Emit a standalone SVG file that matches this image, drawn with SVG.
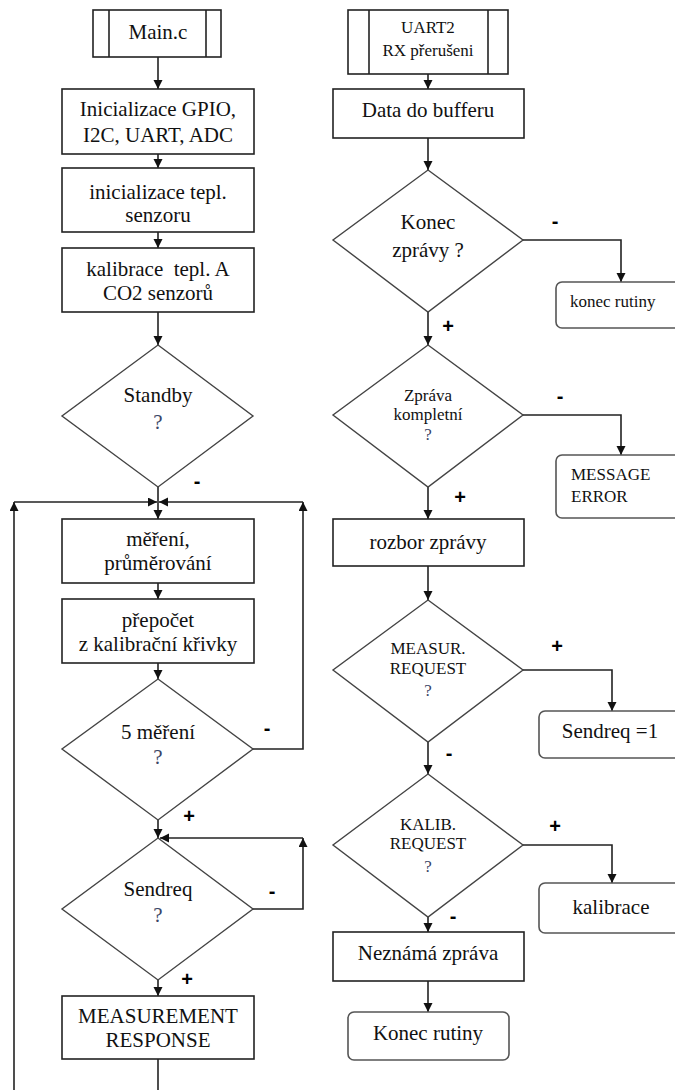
<svg xmlns="http://www.w3.org/2000/svg" width="675" height="1090" viewBox="0 0 675 1090">
<style>
.box{fill:#fff;stroke:#222;stroke-width:1.6}
.rbox{fill:#fff;stroke:#555;stroke-width:1.6}
.dia{fill:#fff;stroke:#444;stroke-width:1.4}
.t{font-family:"Liberation Serif","Times New Roman",serif;font-size:21px;fill:#111;text-anchor:middle}
.s{font-size:17px}
.m{font-size:17px}
.st{text-anchor:start}
.q{fill:#3a4566}
.l{font-family:"Liberation Sans",Arial,sans-serif;font-weight:bold;font-size:20px;fill:#000;text-anchor:middle}
.c{fill:none;stroke:#222;stroke-width:1.6}
</style>
<defs>
<marker id="ah" markerUnits="userSpaceOnUse" markerWidth="10" markerHeight="10" refX="9" refY="4.5" orient="auto">
<path d="M0,0 L9,4.5 L0,9 z" fill="#111"/>
</marker>
</defs>
<g id="connectors">
<line class="c" x1="158" y1="57" x2="158" y2="89" marker-end="url(#ah)"/>
<line class="c" x1="158" y1="154" x2="158" y2="168" marker-end="url(#ah)"/>
<line class="c" x1="158" y1="232" x2="158" y2="248" marker-end="url(#ah)"/>
<line class="c" x1="158" y1="312" x2="158" y2="345" marker-end="url(#ah)"/>
<line class="c" x1="158" y1="487" x2="158" y2="519" marker-end="url(#ah)"/>
<line class="c" x1="14" y1="1090" x2="14" y2="502" marker-end="url(#ah)"/>
<line class="c" x1="14" y1="502" x2="157" y2="502" marker-end="url(#ah)"/>
<polyline class="c" points="253,749 303,749 303,502" marker-end="url(#ah)"/>
<line class="c" x1="303" y1="502" x2="159" y2="502" marker-end="url(#ah)"/>
<line class="c" x1="158" y1="583" x2="158" y2="599" marker-end="url(#ah)"/>
<line class="c" x1="158" y1="663" x2="158" y2="679" marker-end="url(#ah)"/>
<line class="c" x1="158" y1="820" x2="158" y2="838" marker-end="url(#ah)"/>
<polyline class="c" points="253,909 303,909 303,838" marker-end="url(#ah)"/>
<line class="c" x1="303" y1="838" x2="160" y2="838" marker-end="url(#ah)"/>
<line class="c" x1="158" y1="980" x2="158" y2="996" marker-end="url(#ah)"/>
<line class="c" x1="158" y1="1059" x2="158" y2="1090"/>
<line class="c" x1="428" y1="74" x2="428" y2="89" marker-end="url(#ah)"/>
<line class="c" x1="428" y1="138" x2="428" y2="170" marker-end="url(#ah)"/>
<polyline class="c" points="523,240 621,240 621,282" marker-end="url(#ah)"/>
<line class="c" x1="428" y1="312" x2="428" y2="345" marker-end="url(#ah)"/>
<polyline class="c" points="523,415 621,415 621,455" marker-end="url(#ah)"/>
<line class="c" x1="428" y1="487" x2="428" y2="519" marker-end="url(#ah)"/>
<line class="c" x1="428" y1="566" x2="428" y2="600" marker-end="url(#ah)"/>
<polyline class="c" points="523,670 612,670 612,711" marker-end="url(#ah)"/>
<line class="c" x1="428" y1="742" x2="428" y2="774" marker-end="url(#ah)"/>
<polyline class="c" points="523,845 612,845 612,883" marker-end="url(#ah)"/>
<line class="c" x1="428" y1="917" x2="428" y2="932" marker-end="url(#ah)"/>
<line class="c" x1="428" y1="981" x2="428" y2="1012" marker-end="url(#ah)"/>
</g>
<g id="labels">
<text class="l" x="197" y="488">-</text>
<text class="l" x="267" y="735">-</text>
<text class="l" x="189" y="823">+</text>
<text class="l" x="272" y="898">-</text>
<text class="l" x="187" y="986">+</text>
<text class="l" x="555" y="228">-</text>
<text class="l" x="448" y="333">+</text>
<text class="l" x="560" y="403">-</text>
<text class="l" x="460" y="504">+</text>
<text class="l" x="557" y="653">+</text>
<text class="l" x="449" y="760">-</text>
<text class="l" x="555" y="833">+</text>
<text class="l" x="453" y="923">-</text>
</g>
<g id="main">
<rect class="box" x="93" y="10" width="128" height="47"/>
<line class="c" x1="109" y1="10" x2="109" y2="57"/>
<line class="c" x1="206" y1="10" x2="206" y2="57"/>
<text class="t" x="158" y="39">Main.c</text>
</g>
<g id="init">
<rect class="box" x="62" y="89" width="192" height="65"/>
<text class="t" x="158" y="116">Inicializace GPIO,</text>
<text class="t" x="158" y="142">I2C, UART, ADC</text>
</g>
<g id="init-tepl">
<rect class="box" x="62" y="168" width="192" height="64"/>
<text class="t" x="158" y="199">inicializace tepl.</text>
<text class="t" x="158" y="222">senzoru</text>
</g>
<g id="kalib">
<rect class="box" x="62" y="248" width="192" height="64"/>
<text class="t" x="158" y="276" xml:space="preserve">kalibrace  tepl. A</text>
<text class="t" x="158" y="300">CO2 senzorů</text>
</g>
<g id="standby">
<polygon class="dia" points="158,345 253,416 158,487 62,416"/>
<text class="t" x="158" y="402">Standby</text>
<text class="t q" x="158" y="429">?</text>
</g>
<g id="mereni">
<rect class="box" x="62" y="519" width="192" height="64"/>
<text class="t" x="158" y="546">měření,</text>
<text class="t" x="158" y="570">průměrování</text>
</g>
<g id="prepocet">
<rect class="box" x="62" y="599" width="192" height="64"/>
<text class="t" x="158" y="627">přepočet</text>
<text class="t" x="158" y="651">z kalibrační křivky</text>
</g>
<g id="pet-mereni">
<polygon class="dia" points="158,679 253,749 158,820 62,749"/>
<text class="t" x="158" y="739">5 měření</text>
<text class="t q" x="158" y="764">?</text>
</g>
<g id="sendreq">
<polygon class="dia" points="158,838 253,909 158,980 62,909"/>
<text class="t" x="158" y="896">Sendreq</text>
<text class="t q" x="158" y="922">?</text>
</g>
<g id="meas-resp">
<rect class="box" x="62" y="996" width="192" height="63"/>
<text class="t" x="158" y="1023">MEASUREMENT</text>
<text class="t" x="158" y="1047">RESPONSE</text>
</g>
<g id="uart">
<rect class="box" x="348" y="10" width="160" height="64"/>
<line class="c" x1="369" y1="10" x2="369" y2="74"/>
<line class="c" x1="488" y1="10" x2="488" y2="74"/>
<text class="t m" x="428" y="33">UART2</text>
<text class="t m" x="428" y="56">RX přerušeni</text>
</g>
<g id="data">
<rect class="box" x="333" y="89" width="191" height="49"/>
<text class="t" x="428" y="117">Data do bufferu</text>
</g>
<g id="konec-zpravy">
<polygon class="dia" points="428,170 523,240 428,312 333,240"/>
<text class="t" x="428" y="229">Konec</text>
<text class="t" x="428" y="257">zprávy ?</text>
</g>
<g id="konec-rutiny-1">
<rect class="rbox" x="556" y="282" width="134" height="46" rx="6"/>
<text class="t s st" x="570" y="307">konec rutiny</text>
</g>
<g id="zprava-kompletni">
<polygon class="dia" points="428,345 523,415 428,487 333,415"/>
<text class="t s" x="428" y="401">Zpráva</text>
<text class="t s" x="428" y="420">kompletní</text>
<text class="t s q" x="428" y="440">?</text>
</g>
<g id="msg-error">
<rect class="rbox" x="556" y="455" width="134" height="63" rx="6"/>
<text class="t m st" x="571" y="480">MESSAGE</text>
<text class="t m st" x="571" y="502">ERROR</text>
</g>
<g id="rozbor">
<rect class="box" x="333" y="519" width="191" height="47"/>
<text class="t" x="428" y="549">rozbor zprávy</text>
</g>
<g id="measur-req">
<polygon class="dia" points="428,600 523,670 428,742 333,670"/>
<text class="t s" x="428" y="654">MEASUR.</text>
<text class="t s" x="428" y="674">REQUEST</text>
<text class="t s q" x="428" y="696">?</text>
</g>
<g id="sendreq-1">
<rect class="rbox" x="539" y="711" width="150" height="47" rx="6"/>
<text class="t" x="610" y="738">Sendreq =1</text>
</g>
<g id="kalib-req">
<polygon class="dia" points="428,774 523,845 428,917 333,845"/>
<text class="t s" x="428" y="830">KALIB.</text>
<text class="t s" x="428" y="849">REQUEST</text>
<text class="t s q" x="428" y="872">?</text>
</g>
<g id="kalibrace">
<rect class="rbox" x="539" y="883" width="150" height="50" rx="6"/>
<text class="t" x="611" y="914">kalibrace</text>
</g>
<g id="neznama">
<rect class="box" x="333" y="932" width="191" height="49"/>
<text class="t" x="428" y="960">Neznámá zpráva</text>
</g>
<g id="konec-rutiny-2">
<rect class="rbox" x="348" y="1012" width="161" height="48" rx="6"/>
<text class="t" x="428" y="1040">Konec rutiny</text>
</g>
</svg>
